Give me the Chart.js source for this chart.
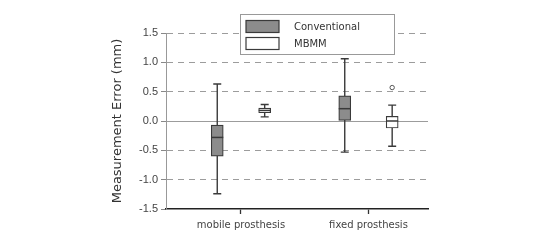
<!DOCTYPE html>
<html><head><meta charset="utf-8">
<script src="https://cdn.jsdelivr.net/npm/chart.js@4"></script>
<style>html,body{margin:0;padding:0;background:#fff}#wrap{width:546px;height:251px;position:relative}</style>
</head><body><div id="wrap"><canvas id="c" width="546" height="251"></canvas></div>
<script>
// ---- data ----
const categories = ['mobile prosthesis', 'fixed prosthesis'];
const seriesNames = ['Conventional', 'MBMM'];
const conventionalMin    = [-1.24, -0.53];
const conventionalQ1     = [-0.60,  0.01];
const conventionalMedian = [-0.28,  0.21];
const conventionalQ3     = [-0.07,  0.43];
const conventionalMax    = [ 0.63,  1.06];
const mbmmMin    = [0.07, -0.43];
const mbmmQ1     = [0.14, -0.12];
const mbmmMedian = [0.18,  0.00];
const mbmmQ3     = [0.22,  0.08];
const mbmmMax    = [0.28,  0.27];
const mbmmOutliers = [[], [0.57]];
const yTickValues = [-1.5, -1.0, -0.5, 0.0, 0.5, 1.0, 1.5];

// ---- layout constants ----
const GROUP_OFFSET = 0.186;
const BOX_W = 12, CAP_W = 8;
const LINE = '#3a3a3a';

Chart.defaults.font.family = '"DejaVu Sans", Verdana, sans-serif';

const series = [
  {min: conventionalMin, q1: conventionalQ1, med: conventionalMedian, q3: conventionalQ3, max: conventionalMax, off: -GROUP_OFFSET},
  {min: mbmmMin, q1: mbmmQ1, med: mbmmMedian, q3: mbmmQ3, max: mbmmMax, off: GROUP_OFFSET}
];

const whiskerPlugin = {
  id: 'whiskers',
  beforeDatasetsDraw(chart) {
    const {ctx, scales: {x, y}} = chart;
    ctx.save();
    ctx.strokeStyle = LINE; ctx.lineWidth = 1.4;
    series.forEach(s => {
      categories.forEach((c, i) => {
        const px = x.getPixelForValue(i + s.off);
        const yMin = y.getPixelForValue(s.min[i]), yMax = y.getPixelForValue(s.max[i]);
        ctx.beginPath();
        ctx.moveTo(px, yMin); ctx.lineTo(px, yMax);
        ctx.moveTo(px - CAP_W / 2, yMin); ctx.lineTo(px + CAP_W / 2, yMin);
        ctx.moveTo(px - CAP_W / 2, yMax); ctx.lineTo(px + CAP_W / 2, yMax);
        ctx.stroke();
      });
    });
    ctx.restore();
  },
  afterDatasetsDraw(chart) {
    const {ctx, scales: {x, y}} = chart;
    ctx.save();
    ctx.strokeStyle = LINE; ctx.lineWidth = 1.5;
    series.forEach(s => {
      categories.forEach((c, i) => {
        const px = x.getPixelForValue(i + s.off);
        const py = y.getPixelForValue(s.med[i]);
        ctx.beginPath();
        ctx.moveTo(px - BOX_W / 2, py); ctx.lineTo(px + BOX_W / 2, py);
        ctx.stroke();
      });
    });
    ctx.restore();
  }
};

const legendPlugin = {
  id: 'boxLegend',
  afterDraw(chart) {
    const ctx = chart.ctx;
    ctx.save();
    ctx.fillStyle = '#fff';
    ctx.fillRect(240.5, 14.5, 154, 40);
    ctx.strokeStyle = '#999'; ctx.lineWidth = 1;
    ctx.strokeRect(240.5, 14.5, 154, 40);
    const rows = [20.5, 37.5];
    [0, 1].forEach(k => {
      const ds = chart.data.datasets[k];
      ctx.fillStyle = ds.backgroundColor;
      ctx.fillRect(246, rows[k], 33, 12);
      ctx.strokeStyle = ds.borderColor; ctx.lineWidth = 1.2;
      ctx.strokeRect(246, rows[k], 33, 12);
      ctx.fillStyle = '#333';
      ctx.font = '10px "DejaVu Sans"';
      ctx.textBaseline = 'middle';
      ctx.fillText(ds.label, 294, rows[k] + 6.5);
    });
    ctx.restore();
  }
};

new Chart(document.getElementById('c'), {
  type: 'bar',
  data: {
    datasets: [
      {
        label: seriesNames[0],
        data: categories.map((c, i) => ({x: i - GROUP_OFFSET, y: [conventionalQ1[i], conventionalQ3[i]]})),
        backgroundColor: '#8c8c8c', borderColor: LINE, borderWidth: 1.2,
        borderSkipped: false, barThickness: BOX_W, grouped: false
      },
      {
        label: seriesNames[1],
        data: categories.map((c, i) => ({x: i + GROUP_OFFSET, y: [mbmmQ1[i], mbmmQ3[i]]})),
        backgroundColor: '#ffffff', borderColor: LINE, borderWidth: 1.2,
        borderSkipped: false, barThickness: BOX_W, grouped: false
      },
      {
        type: 'scatter',
        label: seriesNames[1] + ' outliers',
        data: mbmmOutliers.flatMap((arr, i) => arr.map(v => ({x: i + GROUP_OFFSET, y: v}))),
        pointRadius: 2.2, pointBackgroundColor: '#fff', pointBorderColor: '#555', pointBorderWidth: 1
      }
    ]
  },
  options: {
    responsive: false, animation: false,
    layout: {padding: {left: 110, right: 118, top: 33, bottom: 0}},
    plugins: {legend: {display: false}, tooltip: {enabled: false}},
    scales: {
      x: {
        type: 'linear', min: -0.588, max: 1.467, offset: false,
        afterBuildTicks: s => { s.ticks = categories.map((c, i) => ({value: i})); },
        ticks: {callback: (v, i) => categories[i], font: {size: 10}, color: '#444', padding: 5, autoSkip: false, maxRotation: 0},
        grid: {offset: false, drawOnChartArea: false, drawTicks: true, tickLength: 5, tickColor: '#333', tickWidth: 1.3},
        border: {color: '#222', width: 1.6},
        afterFit: s => { s.height = 42; }
      },
      y: {
        min: -1.5, max: 1.5,
        afterBuildTicks: s => { s.ticks = yTickValues.map(v => ({value: v})); },
        ticks: {callback: v => v.toFixed(1), font: {family: '"Liberation Sans", Arial, sans-serif', size: 11}, color: '#444', padding: 3},
        grid: {
          color: c => (c.tick && c.tick.value === -1.5) ? 'rgba(0,0,0,0)' : '#9c9c9c',
          lineWidth: 1, tickLength: 5, tickColor: '#888'
        },
        border: {color: '#999', width: 1, dash: c => (c.tick && c.tick.value === 0) ? [] : [6, 5]},
        title: {display: true, text: 'Measurement Error (mm)', font: {size: 13}, color: '#333', padding: 0},
        afterFit: s => { s.width = 56; }
      }
    }
  },
  plugins: [whiskerPlugin, legendPlugin]
});
</script></body></html>
